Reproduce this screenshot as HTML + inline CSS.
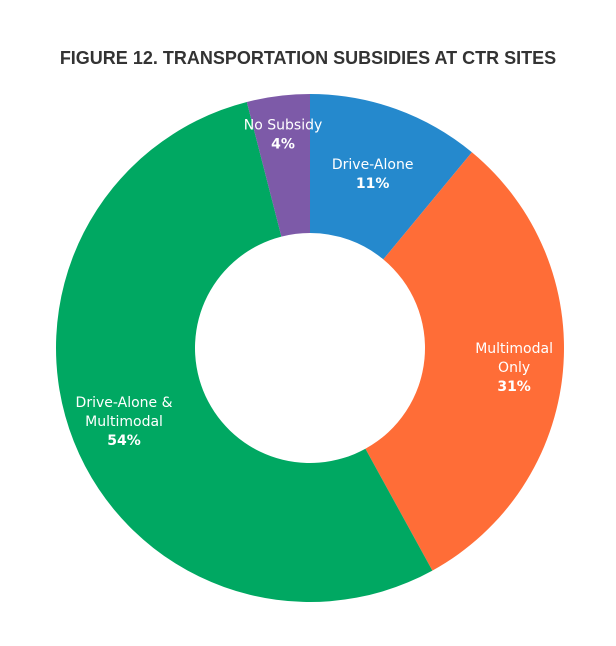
<!DOCTYPE html>
<html><head><meta charset="utf-8"><style>
body{margin:0;background:#fff;width:616px;height:646px;overflow:hidden}
svg{display:block}
.t{font-family:"Liberation Sans Narrow","Liberation Sans",sans-serif;font-weight:bold;font-size:18px;fill:#333}
.l{font-family:"DejaVu Sans","Liberation Sans",sans-serif;font-size:14px;fill:#fff}
.v{font-weight:bold}
</style></head><body>
<svg id="c" width="616" height="646">
<text class="t" x="308" y="64" text-anchor="middle">FIGURE 12. TRANSPORTATION SUBSIDIES AT CTR SITES</text>
</svg>
<script>
const categories=["Drive-Alone","Multimodal Only","Drive-Alone & Multimodal","No Subsidy"];
const values=[11,31,54,4];
const labelLines=[["Drive-Alone"],["Multimodal","Only"],["Drive-Alone &","Multimodal"],["No Subsidy"]];
const colors=["#2589cd","#ff6d37","#00a862","#7d5aa8"];
const svg=document.getElementById('c');const NS="http://www.w3.org/2000/svg";
const cx=310,cy=348,R=254,r=115;
const total=values.reduce((a,b)=>a+b,0);
function pt(a,rad){return [cx+rad*Math.sin(a),cy-rad*Math.cos(a)];}
let acc=0;
const labelR=[185,205,200,215];
values.forEach((v,i)=>{
 const a0=acc/total*2*Math.PI;acc+=v;const a1=acc/total*2*Math.PI;
 const big=(a1-a0)>Math.PI?1:0;
 const [x0,y0]=pt(a0,R),[x1,y1]=pt(a1,R),[x2,y2]=pt(a1,r),[x3,y3]=pt(a0,r);
 const p=document.createElementNS(NS,'path');
 p.setAttribute('d',`M${x0},${y0}A${R},${R} 0 ${big} 1 ${x1},${y1}L${x2},${y2}A${r},${r} 0 ${big} 0 ${x3},${y3}Z`);
 p.setAttribute('fill',colors[i]);
 
 
 svg.appendChild(p);
 const am=(a0+a1)/2;const [lx,ly]=pt(am,labelR[i]);
 const lines=labelLines[i].concat([v+'%']);
 const g=document.createElementNS(NS,'text');
 g.setAttribute('class','l');g.setAttribute('text-anchor','middle');
 
 
 const h=lines.length*19;
 lines.forEach((s,j)=>{const ts=document.createElementNS(NS,'tspan');ts.setAttribute('x',lx);ts.setAttribute('y',ly-h/2+14+j*19);if(j===lines.length-1)ts.setAttribute('class','v');ts.textContent=s;g.appendChild(ts);});
 svg.appendChild(g);
});
</script>
</body></html>
